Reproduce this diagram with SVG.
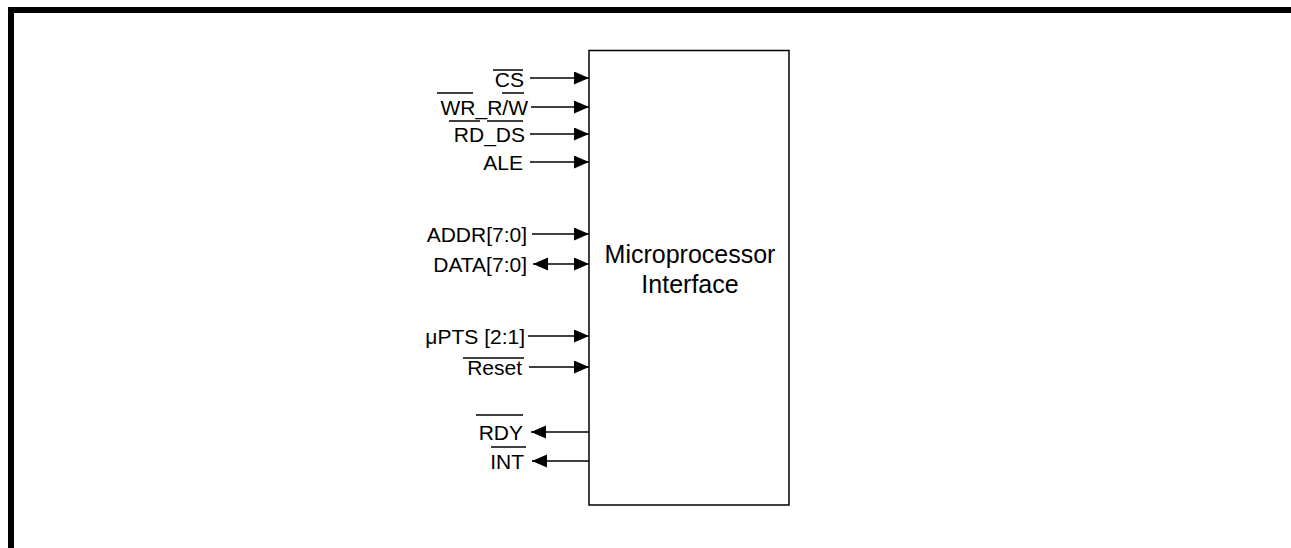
<svg xmlns="http://www.w3.org/2000/svg" width="1291" height="548" viewBox="0 0 1291 548">
<style>
.lbl{font-family:"Liberation Sans",Arial,sans-serif;font-size:21px;fill:#000;text-anchor:end}
.big{font-family:"Liberation Sans",Arial,sans-serif;font-size:25px;fill:#000;text-anchor:middle}
.ln{stroke:#000;stroke-width:1.3;fill:none}
.ov{stroke:#000;stroke-width:1.5}
</style>
<defs>
<marker id="ah" markerUnits="userSpaceOnUse" markerWidth="16" markerHeight="14" refX="15" refY="6.5" orient="auto-start-reverse">
<path d="M0,0 L15,6.5 L0,13 Z" fill="#000"/>
</marker>
</defs>
<rect width="1291" height="548" fill="#fff"/>
<path d="M11,548 V10 H1291" stroke="#000" stroke-width="6" fill="none"/>
<g id="block">
<rect x="589" y="50.5" width="200" height="454.5" fill="#fff" stroke="#000" stroke-width="1.5"/>
<text class="big" x="690" y="263">Microprocessor</text>
<text class="big" x="690" y="293">Interface</text>
</g>
<g id="connectors">
<line class="ln" x1="530" y1="78" x2="589" y2="78" marker-end="url(#ah)"/>
<line class="ln" x1="531" y1="107" x2="589" y2="107" marker-end="url(#ah)"/>
<line class="ln" x1="530" y1="134" x2="589" y2="134" marker-end="url(#ah)"/>
<line class="ln" x1="530" y1="162" x2="589" y2="162" marker-end="url(#ah)"/>
<line class="ln" x1="532" y1="234" x2="589" y2="234" marker-end="url(#ah)"/>
<line class="ln" x1="533" y1="264" x2="589" y2="264" marker-start="url(#ah)" marker-end="url(#ah)"/>
<line class="ln" x1="528" y1="336" x2="589" y2="336" marker-end="url(#ah)"/>
<line class="ln" x1="529" y1="367" x2="589" y2="367" marker-end="url(#ah)"/>
<line class="ln" x1="589" y1="432" x2="531" y2="432" marker-end="url(#ah)"/>
<line class="ln" x1="589" y1="461" x2="532" y2="461" marker-end="url(#ah)"/>
</g>
<g id="sig-cs"><text class="lbl" x="524" y="87">CS</text><line class="ov" x1="493" y1="70" x2="523" y2="70"/></g>
<g id="sig-wr"><text class="lbl" x="528" y="114.5">WR_R/W</text><line class="ov" x1="437" y1="93" x2="473" y2="93"/><line class="ov" x1="502" y1="93" x2="524" y2="93"/></g>
<g id="sig-rd"><text class="lbl" x="525" y="141.5">RD_DS</text><line class="ov" x1="449" y1="121" x2="480" y2="121"/><line class="ov" x1="487" y1="121" x2="523" y2="121"/></g>
<g id="sig-ale"><text class="lbl" x="523" y="170">ALE</text></g>
<g id="sig-addr"><text class="lbl" x="527" y="241.5">ADDR[7:0]</text></g>
<g id="sig-data"><text class="lbl" x="527" y="271.5">DATA[7:0]</text></g>
<g id="sig-upts"><text class="lbl" x="525" y="343.5">μPTS [2:1]</text></g>
<g id="sig-reset"><text class="lbl" x="522" y="374.5">Reset</text><line class="ov" x1="463" y1="358" x2="524" y2="358"/></g>
<g id="sig-rdy"><text class="lbl" x="523" y="439.5">RDY</text><line class="ov" x1="476" y1="415" x2="523" y2="415"/></g>
<g id="sig-int"><text class="lbl" x="524" y="468.5">INT</text><line class="ov" x1="491" y1="447" x2="526" y2="447"/></g>
</svg>
